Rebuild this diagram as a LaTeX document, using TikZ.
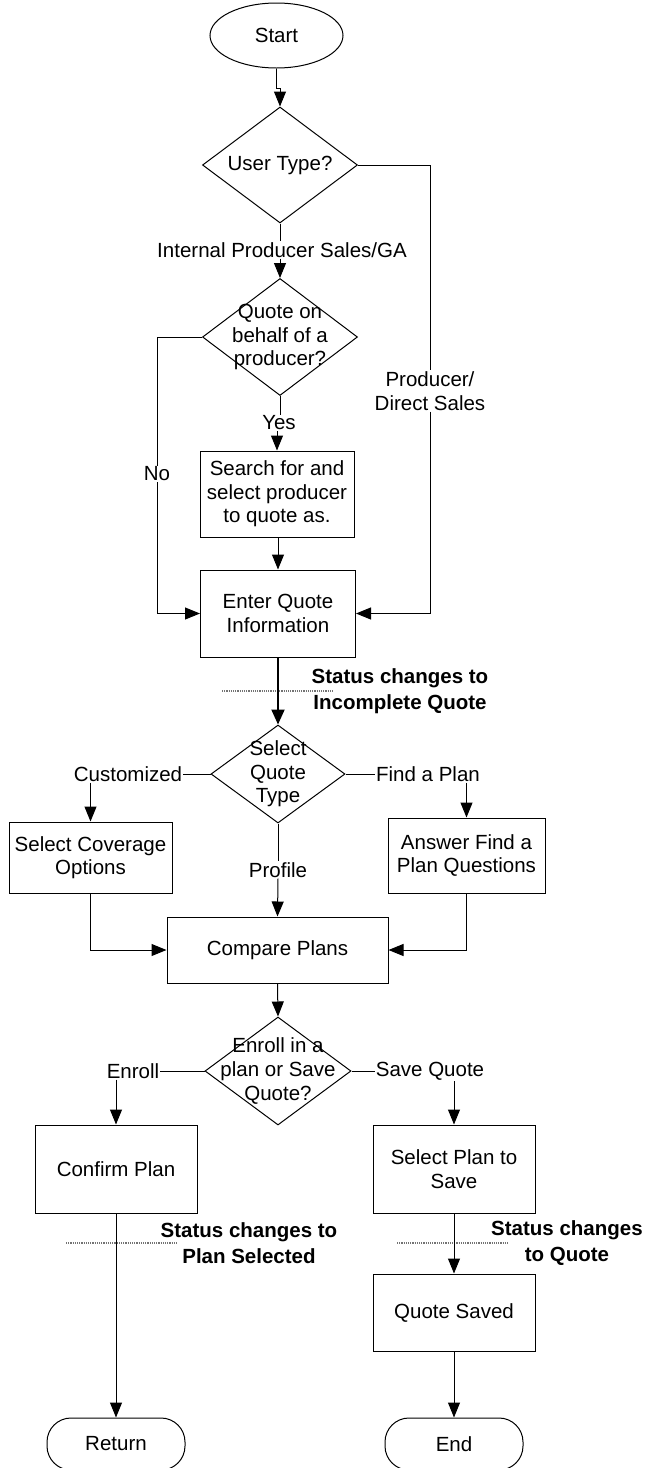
\documentclass[tikz,border=0pt]{standalone}
\usepackage{fontspec}
\setmainfont{Liberation Sans}
\usetikzlibrary{arrows.meta,shapes.geometric}

\begin{document}
\begin{tikzpicture}[x=1pt,y=-1pt,
  every node/.style={font=\fontsize{20.5}{23.6}\selectfont},
  box/.style={draw, rectangle, inner sep=0pt, align=center, line width=1pt},
  dia/.style={draw, diamond, inner sep=0pt, line width=1pt},
  dtext/.style={inner sep=0pt, align=center},
  oval/.style={draw, ellipse, inner sep=0pt, line width=1pt},
  capsule/.style={draw, rectangle, rounded corners=24pt, inner sep=0pt, line width=1pt},
  lbl/.style={inner sep=1pt, align=center},
  wire/.style={line width=1pt},
  flow/.style={line width=1pt, -{Triangle[length=15pt,width=12pt]}},
  boldflow/.style={line width=2pt, -{Triangle[length=15pt,width=13pt]}},
  status/.style={font=\bfseries\fontsize{20.5}{26}\selectfont, align=center, inner sep=0pt},
  tick/.style={black!55, densely dotted, line width=1.2pt}
]
\useasboundingbox (0,0) rectangle (650,1468);
\clip (0,0) rectangle (650,1468);

% ---------- upper part: user type and producer selection ----------
\node[oval, minimum width=133pt, minimum height=65pt] (start) at (276.5,35.5) {Start};

\node[dia, minimum width=155pt, minimum height=116pt] (ut) at (280,165) {};
\node[dtext] (utt) at (ut) {User Type?};

\node[lbl] (lblIP) at (282,250) {Internal Producer Sales/GA};

\node[dia, minimum width=155pt, minimum height=117pt] (q2) at (280,337) {};
\node[dtext] (q2t) at (q2) {Quote on\\behalf of a\\producer?};

\node[lbl] (lblYes) at (279,423) {Yes};
\node[lbl] (lblNo) at (157,474) {No};
\node[lbl] (lblPD) at (430,391) {Producer/\\Direct Sales};

\node[box, minimum width=154pt, minimum height=86pt] (search) at (277,494) {Search for and\\select producer\\to quote as.};
\node[box, minimum width=155pt, minimum height=87pt] (enter) at (278,613.5) {Enter Quote\\Information};

% ---------- quote type and plan comparison ----------
\node[status] (st1) at (400,691) {Status changes to\\Incomplete Quote};
\draw[tick] (222,691) -- (333,691);

\node[dia, minimum width=134pt, minimum height=98pt] (qt) at (278,774) {};
\node[dtext] (qtt) at (qt) {Select\\Quote\\Type};

\node[lbl] (lblCu) at (128,774) {Customized};
\node[lbl] (lblFP) at (428,774) {Find a Plan};
\node[lbl] (lblPr) at (278,870) {Profile};

\node[box, minimum width=163pt, minimum height=71pt] (sco) at (90.5,857.5) {Select Coverage\\Options};
\node[box, minimum width=157pt, minimum height=75pt] (afp) at (466.5,855.5) {Answer Find a\\Plan Questions};
\node[box, minimum width=221pt, minimum height=66pt] (cmp) at (277.5,950) {Compare Plans};

% ---------- enrol or save ----------
\node[dia, minimum width=146pt, minimum height=108pt] (en) at (278,1071) {};
\node[dtext] (ent) at (en) {Enroll in a\\plan or Save\\Quote?};

\node[lbl] (lblEn) at (133,1071) {Enroll};
\node[lbl] (lblSQ) at (430,1071) {Save Quote};

\node[box, minimum width=162pt, minimum height=88pt] (conf) at (116,1169) {Confirm Plan};
\node[box, minimum width=162pt, minimum height=88pt] (sps) at (454,1169) {Select Plan to\\Save};

\node[status] (st2) at (249,1243) {Status changes to\\Plan Selected};
\node[status] (st3) at (567,1243) {Status changes\\to Quote};
\draw[tick] (66,1243) -- (177,1243);
\draw[tick] (397,1243) -- (508,1243);

\node[box, minimum width=162pt, minimum height=77pt] (qs) at (454,1312.5) {Quote Saved};

\node[capsule, minimum width=138pt, minimum height=52pt] (ret) at (116,1444) {Return};
\node[capsule, minimum width=138pt, minimum height=52pt] (endn) at (454,1444) {End};

% ---------- connectors ----------
\draw[flow] (start.south) -- ++(0,20) -| (ut.north);
\draw[wire] (ut.south) -- (ut.south |- lblIP.north);
\draw[flow] (ut.south |- lblIP.south) -- (q2.north);

\draw[wire] (ut.east) -| (lblPD.north);
\draw[flow] (lblPD.south) |- (enter.east);

\draw[wire] (q2.west) -| (lblNo.north);
\draw[flow] (lblNo.south) |- (enter.west);

\draw[wire] (q2.south) -- (q2.south |- lblYes.north);
\draw[flow] (search.north |- lblYes.south) -- (search.north);
\draw[flow] (search.south) -- (search.south -| enter.north) -- (enter.north);

\draw[boldflow] (enter.south) -- (qt.north);

\draw[wire] (qt.west) -- (lblCu.east);
\draw[flow] (lblCu.south -| sco.north) -- (sco.north);
\draw[wire] (qt.east) -- (lblFP.west);
\draw[flow] (lblFP.south -| afp.north) -- (afp.north);
\draw[wire] (qt.south) -- (lblPr.north);
\draw[flow] (lblPr.south) -- (cmp.north);

\draw[flow] (sco.south) |- (cmp.west);
\draw[flow] (afp.south) |- (cmp.east);
\draw[flow] (cmp.south) -- (en.north);

\draw[wire] (en.west) -- (lblEn.east);
\draw[flow] (lblEn.south -| conf.north) -- (conf.north);
\draw[wire] (en.east) -- (lblSQ.west);
\draw[flow] (lblSQ.south -| sps.north) -- (sps.north);

\draw[flow] (conf.south) -- (ret.north);
\draw[flow] (sps.south) -- (qs.north);
\draw[flow] (qs.south) -- (endn.north);
\end{tikzpicture}
\end{document}
